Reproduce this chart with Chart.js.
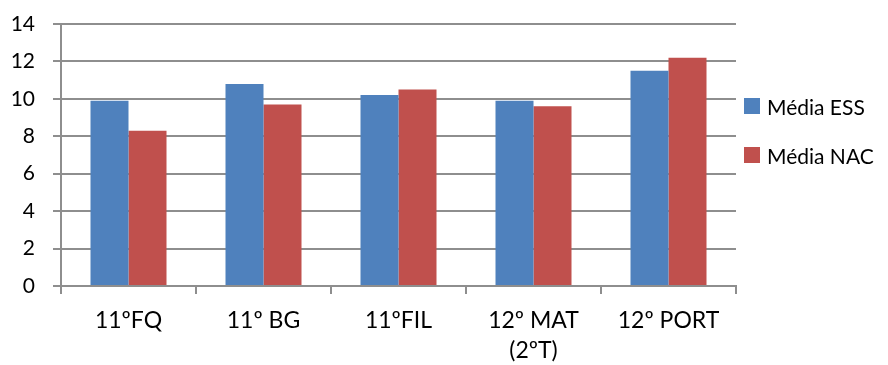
<!DOCTYPE html>
<html>
<head>
<meta charset="utf-8">
<script src="https://cdn.jsdelivr.net/npm/chart.js@4/dist/chart.umd.min.js"></script>
<style>
  html, body { margin: 0; padding: 0; background: #fff; }
  #wrap { position: relative; width: 888px; height: 365px; }
  #legend { position: absolute; left: 744px; top: 90px; font-family: Lato, "Liberation Sans", sans-serif; font-size: 21px; color: #000; }
  .item { display: flex; align-items: center; height: 32px; margin-bottom: 17px; }
  .swatch { width: 16px; height: 16px; margin-right: 7px; }
</style>
</head>
<body>
<div id="wrap">
  <canvas id="c" width="888" height="365"></canvas>
  <div id="legend"></div>
</div>
<script>
const categories = ['11ºFQ', '11º BG', '11ºFIL', ['12º MAT', '(2ºT)'], '12º PORT'];
const mediaESS = [9.9, 10.8, 10.2, 9.9, 11.5];
const mediaNAC = [8.3, 9.7, 10.5, 9.6, 12.2];
const seriesNames = ['Média ESS', 'Média NAC'];
const seriesColors = ['#4F81BD', '#C0504D'];
const yTicks = [0, 2, 4, 6, 8, 10, 12, 14];

const family = 'Lato, "Liberation Sans", sans-serif';
const gridGray = '#8e8e8e';

const chart = new Chart(document.getElementById('c'), {
  type: 'bar',
  data: {
    labels: categories,
    datasets: [
      { label: seriesNames[0], data: mediaESS, backgroundColor: seriesColors[0] },
      { label: seriesNames[1], data: mediaNAC, backgroundColor: seriesColors[1] }
    ]
  },
  options: {
    responsive: false,
    animation: false,
    layout: { padding: { top: 24, right: 152, left: 0, bottom: 0 } },
    datasets: { bar: { categoryPercentage: 0.563, barPercentage: 1.0 } },
    plugins: { legend: { display: false }, tooltip: { enabled: false } },
    scales: {
      x: {
        offset: true,
        grid: { offset: true, drawOnChartArea: false, drawTicks: true, tickLength: 8, color: gridGray, lineWidth: 2 },
        border: { color: gridGray, width: 2 },
        ticks: { color: '#000', font: { family, size: 23, lineHeight: 1.3 }, padding: 12, maxRotation: 0, autoSkip: false },
        afterFit(scale) { scale.height = 79; scale.paddingLeft = 0; scale.paddingRight = 0; }
      },
      y: {
        min: yTicks[0],
        max: yTicks[yTicks.length - 1],
        afterBuildTicks(scale) { scale.ticks = yTicks.map(v => ({ value: v })); },
        grid: { color: gridGray, lineWidth: 2, tickLength: 8 },
        border: { color: gridGray, width: 2 },
        ticks: { color: '#000', font: { family, size: 21 }, padding: 18 },
        afterFit(scale) { scale.width = 61; scale.paddingTop = 0; scale.paddingBottom = 0; }
      }
    }
  }
});

// Legend entries built from the datasets
const legend = document.getElementById('legend');
chart.data.datasets.forEach(ds => {
  const row = document.createElement('div');
  row.className = 'item';
  const sw = document.createElement('span');
  sw.className = 'swatch';
  sw.style.background = ds.backgroundColor;
  const txt = document.createElement('span');
  txt.textContent = ds.label;
  row.appendChild(sw);
  row.appendChild(txt);
  legend.appendChild(row);
});
</script>
</body>
</html>
